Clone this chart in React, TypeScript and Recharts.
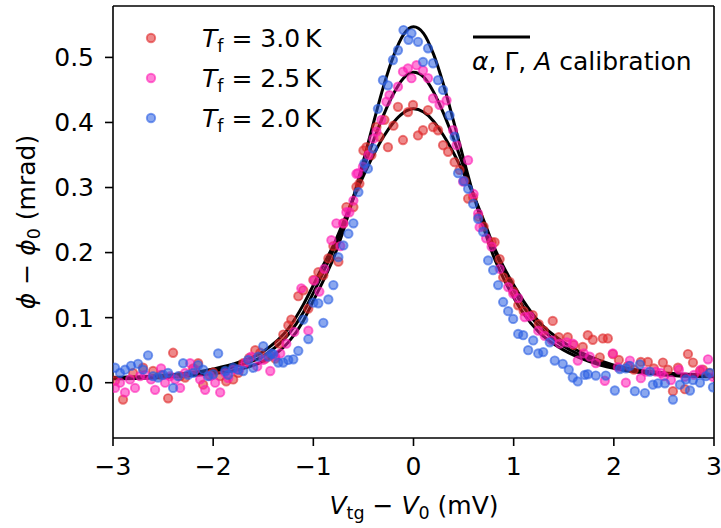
import { ComposedChart, Line, Scatter, XAxis, YAxis, ReferenceLine } from 'recharts';

const FONT = '"DejaVu Sans", sans-serif';

const xTicks = [-3, -2, -1, 0, 1, 2, 3];
const yTicks = [0, 0.1, 0.2, 0.3, 0.4, 0.5];

// fitted curves (alpha, Gamma, A calibration)
const fitX = [
  -3, -2.5, -2, -1.75, -1.5, -1.25, -1.1, -1, -0.9, -0.8, -0.7, -0.6, -0.5, -0.4, -0.3, -0.2, -0.1, 0,
  0.1, 0.2, 0.3, 0.4, 0.5, 0.6, 0.7, 0.8, 0.9, 1, 1.1, 1.25, 1.5, 1.75, 2, 2.5, 3,
];
const fit30 = [
  0.008, 0.011, 0.021, 0.031, 0.048, 0.083, 0.12, 0.15, 0.181, 0.211, 0.247, 0.283, 0.318, 0.35, 0.378, 0.4, 0.415, 0.421,
  0.416, 0.402, 0.38, 0.353, 0.322, 0.288, 0.25, 0.21, 0.178, 0.15, 0.125, 0.094, 0.062, 0.041, 0.027, 0.015, 0.012,
];
const fit25 = [
  0.007, 0.01, 0.018, 0.026, 0.041, 0.074, 0.108, 0.138, 0.17, 0.204, 0.243, 0.285, 0.329, 0.372, 0.411, 0.444, 0.468, 0.477,
  0.47, 0.447, 0.414, 0.375, 0.332, 0.288, 0.246, 0.206, 0.172, 0.142, 0.116, 0.087, 0.056, 0.037, 0.025, 0.014, 0.01,
];
const fit20 = [
  0.006, 0.008, 0.014, 0.02, 0.033, 0.062, 0.095, 0.126, 0.157, 0.191, 0.234, 0.285, 0.341, 0.399, 0.455, 0.502, 0.535, 0.547,
  0.537, 0.505, 0.458, 0.402, 0.344, 0.288, 0.238, 0.194, 0.16, 0.131, 0.106, 0.078, 0.05, 0.033, 0.022, 0.012, 0.009,
];

// measured points [V_tg - V_0, phi - phi_0]
const pts30: [number, number][] = [
  [-2.98, 0.003], [-2.9, -0.026], [-2.8, 0.015], [-2.7, 0.023], [-2.6, 0.018], [-2.52, 0.012], [-2.45, -0.024],
  [-2.4, 0.046], [-2.33, 0.01], [-2.28, 0.008], [-2.2, 0.022], [-2.15, 0.03], [-2.1, -0.003], [-2.04, 0.012],
  [-2.0, 0.016], [-1.93, 0.01], [-1.87, 0.002], [-1.8, 0.005], [-1.75, 0.015], [-1.7, 0.03], [-1.64, 0.038],
  [-1.58, 0.05], [-1.53, 0.046], [-1.48, 0.037], [-1.43, 0.042], [-1.38, 0.037], [-1.34, 0.06], [-1.3, 0.074],
  [-1.25, 0.088], [-1.22, 0.097], [-1.15, 0.133], [-1.1, 0.142], [-1.05, 0.114], [-1.0, 0.158], [-0.95, 0.17],
  [-0.9, 0.165], [-0.85, 0.191], [-0.8, 0.21], [-0.75, 0.186], [-0.7, 0.245], [-0.67, 0.27], [-0.6, 0.27],
  [-0.57, 0.301], [-0.54, 0.306], [-0.5, 0.357], [-0.47, 0.362], [-0.42, 0.35], [-0.37, 0.393], [-0.34, 0.378],
  [-0.29, 0.404], [-0.255, 0.362], [-0.2, 0.395], [-0.155, 0.424], [-0.105, 0.373], [-0.055, 0.416], [-0.005, 0.427],
  [0.045, 0.38], [0.095, 0.388], [0.145, 0.419], [0.195, 0.393], [0.245, 0.388], [0.295, 0.365], [0.345, 0.355],
  [0.41, 0.339], [0.46, 0.327], [0.51, 0.31], [0.545, 0.283], [0.595, 0.285], [0.65, 0.255], [0.7, 0.24],
  [0.78, 0.216], [0.81, 0.216], [0.86, 0.19], [0.895, 0.162], [0.96, 0.155], [1.0, 0.14], [1.045, 0.119],
  [1.1, 0.11], [1.19, 0.104], [1.25, 0.09], [1.3, 0.08], [1.39, 0.095], [1.45, 0.07], [1.54, 0.07], [1.6, 0.058],
  [1.69, 0.055], [1.74, 0.073], [1.79, 0.066], [1.86, 0.039], [1.89, 0.068], [1.94, 0.068], [1.99, 0.044],
  [2.05, 0.035], [2.14, 0.026], [2.2, 0.02], [2.27, 0.032], [2.34, 0.032], [2.4, 0.022], [2.49, 0.031],
  [2.54, 0.02], [2.59, -0.013], [2.64, 0.023], [2.71, -0.01], [2.74, 0.044], [2.79, 0.031], [2.86, 0.018],
  [2.89, 0.02], [2.95, 0.015],
];
const pts25: [number, number][] = [
  [-2.98, -0.008], [-2.93, 0.0], [-2.88, -0.015], [-2.83, 0.005], [-2.78, -0.008], [-2.73, 0.01], [-2.68, 0.012],
  [-2.62, 0.005], [-2.58, -0.011], [-2.52, 0.022], [-2.48, 0.0], [-2.43, 0.01], [-2.38, 0.005], [-2.33, -0.008],
  [-2.28, 0.015], [-2.23, 0.03], [-2.18, 0.02], [-2.13, 0.005], [-2.08, -0.011], [-2.03, 0.01], [-1.98, 0.0],
  [-1.93, -0.015], [-1.88, 0.015], [-1.85, 0.007], [-1.8, 0.02], [-1.74, 0.02], [-1.68, 0.03], [-1.62, 0.04],
  [-1.56, 0.025], [-1.5, 0.035], [-1.43, 0.018], [-1.38, 0.04], [-1.33, 0.045], [-1.27, 0.06], [-1.19, 0.078],
  [-1.12, 0.145], [-1.05, 0.08], [-0.99, 0.157], [-0.94, 0.14], [-0.89, 0.175], [-0.82, 0.219], [-0.77, 0.245],
  [-0.73, 0.21], [-0.7, 0.245], [-0.67, 0.262], [-0.64, 0.262], [-0.6, 0.28], [-0.57, 0.321], [-0.555, 0.322],
  [-0.505, 0.332], [-0.45, 0.35], [-0.4, 0.375], [-0.37, 0.386], [-0.32, 0.404], [-0.27, 0.432], [-0.24, 0.442],
  [-0.155, 0.455], [-0.105, 0.478], [-0.055, 0.483], [-0.02, 0.468], [0.03, 0.488], [0.095, 0.48], [0.145, 0.468],
  [0.195, 0.437], [0.26, 0.427], [0.33, 0.434], [0.395, 0.388], [0.43, 0.365], [0.495, 0.309], [0.545, 0.342],
  [0.6, 0.29], [0.645, 0.26], [0.66, 0.239], [0.725, 0.222], [0.78, 0.209], [0.86, 0.175], [0.945, 0.147],
  [0.995, 0.137], [1.045, 0.13], [1.11, 0.101], [1.16, 0.102], [1.245, 0.08], [1.31, 0.072], [1.38, 0.065],
  [1.46, 0.06], [1.53, 0.062], [1.59, 0.06], [1.64, 0.034], [1.7, 0.045], [1.76, 0.04], [1.82, 0.03],
  [1.91, 0.003], [1.99, 0.045], [2.04, 0.024], [2.12, 0.0], [2.16, 0.034], [2.27, 0.007], [2.32, 0.017],
  [2.42, 0.017], [2.47, 0.015], [2.5, 0.01], [2.57, 0.004], [2.65, 0.02], [2.71, 0.009], [2.8, 0.012],
  [2.87, 0.02], [2.94, 0.036], [2.99, 0.009],
];
const pts20: [number, number][] = [
  [-2.98, 0.023], [-2.93, 0.015], [-2.88, 0.02], [-2.82, 0.026], [-2.75, 0.029], [-2.7, 0.02], [-2.65, 0.042],
  [-2.6, 0.01], [-2.55, 0.008], [-2.5, 0.012], [-2.45, 0.015], [-2.4, -0.008], [-2.35, 0.01], [-2.3, 0.03],
  [-2.25, 0.012], [-2.2, 0.015], [-2.15, 0.027], [-2.1, 0.02], [-2.05, 0.01], [-2.0, 0.013], [-1.95, 0.045],
  [-1.88, 0.018], [-1.85, 0.012], [-1.8, 0.023], [-1.75, 0.02], [-1.7, 0.018], [-1.65, 0.035], [-1.6, 0.023],
  [-1.55, 0.04], [-1.5, 0.056], [-1.45, 0.04], [-1.42, 0.045], [-1.4, 0.044], [-1.35, 0.031], [-1.3, 0.031],
  [-1.25, 0.035], [-1.2, 0.036], [-1.15, 0.049], [-1.1, 0.097], [-1.05, 0.067], [-1.0, 0.123], [-0.95, 0.122],
  [-0.9, 0.092], [-0.85, 0.128], [-0.8, 0.15], [-0.75, 0.193], [-0.7, 0.211], [-0.65, 0.229], [-0.6, 0.245],
  [-0.55, 0.293], [-0.49, 0.337], [-0.455, 0.329], [-0.405, 0.36], [-0.355, 0.421], [-0.305, 0.465],
  [-0.255, 0.457], [-0.205, 0.496], [-0.155, 0.511], [-0.1, 0.542], [-0.05, 0.527], [-0.02, 0.537], [0.045, 0.524],
  [0.095, 0.493], [0.145, 0.514], [0.195, 0.491], [0.245, 0.465], [0.295, 0.45], [0.36, 0.411], [0.41, 0.378],
  [0.445, 0.322], [0.5, 0.31], [0.545, 0.298], [0.595, 0.275], [0.645, 0.252], [0.695, 0.232], [0.745, 0.188],
  [0.795, 0.173], [0.845, 0.15], [0.895, 0.124], [0.945, 0.11], [0.995, 0.098], [1.045, 0.075], [1.095, 0.073],
  [1.145, 0.05], [1.195, 0.065], [1.245, 0.045], [1.295, 0.047], [1.36, 0.062], [1.41, 0.034], [1.49, 0.029],
  [1.55, 0.02], [1.59, 0.008], [1.64, 0.002], [1.71, 0.012], [1.74, 0.013], [1.82, 0.011], [1.92, 0.011],
  [2.01, -0.012], [2.06, 0.021], [2.12, 0.022], [2.16, 0.026], [2.21, -0.013], [2.26, 0.028], [2.31, -0.016],
  [2.36, 0.017], [2.39, -0.003], [2.44, -0.001], [2.51, -0.001], [2.59, -0.026], [2.66, -0.003], [2.72, 0.005],
  [2.76, -0.012], [2.79, 0.004], [2.86, 0.0], [2.92, 0.01], [2.96, 0.015], [2.99, -0.007],
];

const series = [
  { temp: '3.0', color: '#e0282a', pts: pts30, fit: fit30 },
  { temp: '2.5', color: '#ff1cb4', pts: pts25, fit: fit25 },
  { temp: '2.0', color: '#2a5ee2', pts: pts20, fit: fit20 },
];

const toRows = (pts: [number, number][]) => pts.map(([x, y]) => ({ x, y }));
const fitRows = (ys: number[]) => fitX.map((x, i) => ({ x, y: ys[i] }));

const fmtX = (v: number) => (v < 0 ? `\u2212${Math.abs(v)}` : `${v}`);
const fmtY = (v: number) => v.toFixed(1);

const dot = (color: string) => (p: any) => (
  <circle
    cx={p.cx}
    cy={p.cy}
    r={4.2}
    fill={color}
    fillOpacity={0.55}
    stroke={color}
    strokeOpacity={0.6}
    strokeWidth={1.9}
  />
);

const tickStyle = { fill: '#000', fontSize: 25, fontFamily: FONT };
const axisStroke = { stroke: '#000', strokeWidth: 1.6 };

export default function App() {
  return (
    <div style={{ position: 'relative', width: 721, height: 528, background: '#fff' }}>
      <style>{'body{margin:0}'}</style>
      <ComposedChart width={721} height={528} margin={{ top: 6, right: 7, bottom: 0, left: 0 }}>
        <XAxis
          dataKey="x"
          type="number"
          domain={[-3, 3]}
          ticks={xTicks}
          tickFormatter={fmtX}
          tick={tickStyle}
          tickSize={8}
          tickMargin={11}
          axisLine={axisStroke}
          tickLine={axisStroke}
          height={90}
          allowDataOverflow
        />
        <YAxis
          dataKey="y"
          type="number"
          domain={[-0.085, 0.579]}
          ticks={yTicks}
          tickFormatter={fmtY}
          tick={tickStyle}
          tickSize={8}
          tickMargin={11}
          axisLine={axisStroke}
          tickLine={axisStroke}
          width={113}
          allowDataOverflow
        />
        <ReferenceLine y={0.579} stroke="#000" strokeWidth={1.6} />
        <ReferenceLine x={3} stroke="#000" strokeWidth={1.6} />
        {series.map((s) => (
          <Line
            key={'fit' + s.temp}
            data={fitRows(s.fit)}
            dataKey="y"
            type="monotone"
            stroke="#000"
            strokeWidth={3}
            dot={false}
            activeDot={false}
            isAnimationActive={false}
          />
        ))}
        {series.map((s) => (
          <Scatter
            key={'pts' + s.temp}
            data={toRows(s.pts)}
            shape={dot(s.color)}
            isAnimationActive={false}
          />
        ))}
      </ComposedChart>
      <svg
        width={721}
        height={528}
        style={{ position: 'absolute', left: 0, top: 0, pointerEvents: 'none' }}
        fontFamily={FONT}
      >
        {series.map((s, i) => (
          <g key={s.temp}>
            <circle
              cx={151}
              cy={38 + i * 40}
              r={4.2}
              fill={s.color}
              fillOpacity={0.55}
              stroke={s.color}
              strokeOpacity={0.6}
              strokeWidth={1.9}
            />
            <text x={202} y={47 + i * 40} fontSize={25} fill="#000">
              <tspan fontStyle="italic">T</tspan>
              <tspan fontSize={17.5} dy={5}>f</tspan>
              <tspan dy={-5}>{` = ${s.temp}\u2009K`}</tspan>
            </text>
          </g>
        ))}
        <line x1={473} x2={530} y1={37} y2={37} stroke="#000" strokeWidth={3} />
        <text x={472} y={70} fontSize={25} fill="#000">
          <tspan fontStyle="italic">α</tspan>
          <tspan>, Γ, </tspan>
          <tspan fontStyle="italic">A</tspan>
          <tspan> calibration</tspan>
        </text>
        <text x={414} y={514} fontSize={25} fill="#000" textAnchor="middle">
          <tspan fontStyle="italic">V</tspan>
          <tspan fontSize={17.5} dy={5}>tg</tspan>
          <tspan dy={-5}> − </tspan>
          <tspan fontStyle="italic">V</tspan>
          <tspan fontSize={17.5} dy={5}>0</tspan>
          <tspan dy={-5}> (mV)</tspan>
        </text>
        <text transform="translate(35,222) rotate(-90)" fontSize={25} fill="#000" textAnchor="middle">
          <tspan fontStyle="italic">ϕ</tspan>
          <tspan> − </tspan>
          <tspan fontStyle="italic">ϕ</tspan>
          <tspan fontSize={17.5} dy={5}>0</tspan>
          <tspan dy={-5}> (mrad)</tspan>
        </text>
      </svg>
    </div>
  );
}
